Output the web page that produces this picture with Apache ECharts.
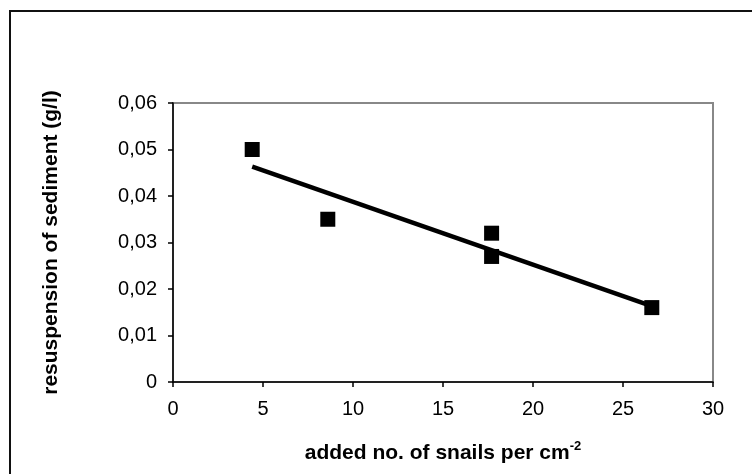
<!DOCTYPE html>
<html>
<head>
<meta charset="utf-8">
<script src="https://cdn.jsdelivr.net/npm/echarts@6/dist/echarts.min.js"></script>
<style>
html,body{margin:0;padding:0;background:#fff;}
#c{width:752px;height:474px;}
</style>
</head>
<body>
<div id="c"></div>
<script>
// Data
var snailsX = [4.4, 8.6, 17.7, 17.7, 26.6];
var resuspensionY = [0.050, 0.035, 0.032, 0.027, 0.016];
// Linear trendline end points as drawn in the reference
var trendX = [4.4, 26.6];
var trendY = [0.0463, 0.0163];
var xTicks = [0, 5, 10, 15, 20, 25, 30];
var yTicks = ['0', '0,01', '0,02', '0,03', '0,04', '0,05', '0,06'];

var points = snailsX.map(function (x, i) { return [x, resuspensionY[i]]; });
var trend = trendX.map(function (x, i) { return [x, trendY[i]]; });

var chart = echarts.init(document.getElementById('c'), null, {renderer: 'canvas'});
var font = 'Arial, "Liberation Sans", sans-serif';
chart.setOption({
  animation: false,
  backgroundColor: '#ffffff',
  graphic: [{
    type: 'rect',
    shape: {x: 10, y: 11, width: 800, height: 520},
    style: {fill: 'none', stroke: '#111', lineWidth: 2},
    silent: true
  }],
  grid: {
    left: 173, right: 39, top: 103, bottom: 92,
    show: true, borderColor: '#888', borderWidth: 2, backgroundColor: 'transparent'
  },
  xAxis: {
    type: 'value', min: 0, max: 30, interval: 5,
    name: 'added no. of snails per cm{sup|-2}',
    nameLocation: 'middle', nameGap: 58,
    nameTextStyle: {
      fontFamily: font, fontSize: 21, fontWeight: 'bold', color: '#000',
      rich: {sup: {fontFamily: font, fontSize: 13, fontWeight: 'bold', color: '#000', verticalAlign: 'top', padding: [0, 0, 14, 0]}}
    },
    axisLine: {show: true, onZero: false, lineStyle: {color: '#000', width: 1.5}},
    axisTick: {show: true, length: 5, lineStyle: {color: '#000', width: 1.5}},
    splitLine: {show: false},
    axisLabel: {
      fontFamily: font, fontSize: 20, color: '#000', margin: 17,
      formatter: function (v) { var i = xTicks.indexOf(v); return i >= 0 ? String(xTicks[i]) : ''; }
    }
  },
  yAxis: {
    type: 'value', min: 0, max: 0.06, interval: 0.01,
    name: 'resuspension of sediment (g/l)',
    nameLocation: 'middle', nameGap: 111, nameRotate: 90,
    nameTextStyle: {fontFamily: font, fontSize: 21, fontWeight: 'bold', color: '#000'},
    axisLine: {show: true, onZero: false, lineStyle: {color: '#000', width: 1.5}},
    axisTick: {show: true, length: 5, lineStyle: {color: '#000', width: 1.5}},
    splitLine: {show: false},
    axisLabel: {
      fontFamily: font, fontSize: 20, color: '#000', margin: 16,
      formatter: function (v) { var i = Math.round(v * 100); return yTicks[i] !== undefined ? yTicks[i] : ''; }
    }
  },
  series: [
    {
      type: 'line', data: trend, symbol: 'none', silent: true,
      lineStyle: {color: '#000', width: 4.5}, z: 3
    },
    {
      type: 'scatter', data: points, symbol: 'rect', symbolSize: 15,
      itemStyle: {color: '#000', opacity: 1}, z: 2
    }
  ]
});
</script>
</body>
</html>
